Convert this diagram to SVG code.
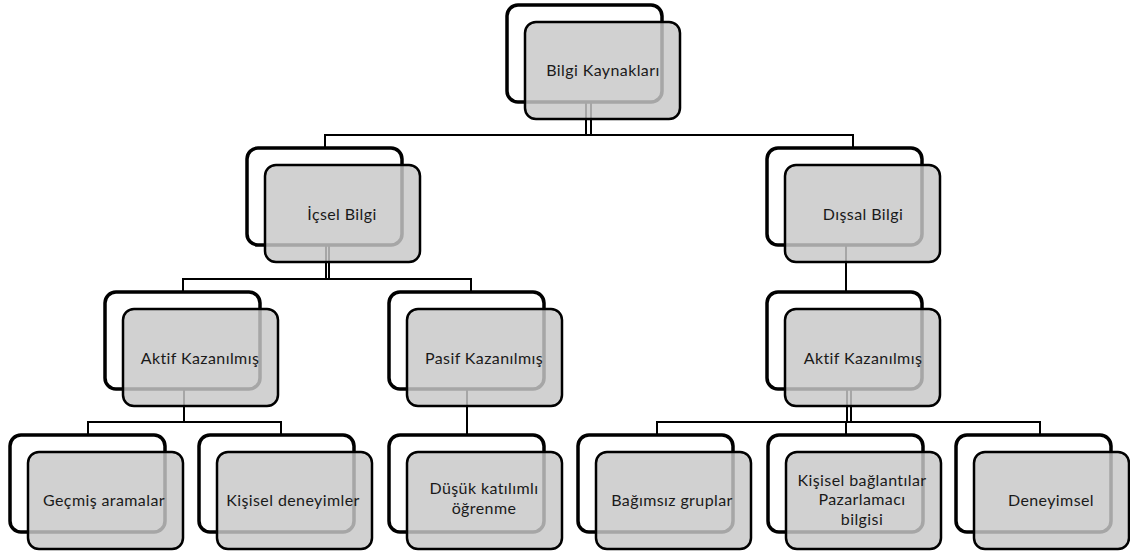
<svg xmlns="http://www.w3.org/2000/svg" width="1130" height="556" viewBox="0 0 1130 556">
<style>
.back{fill:#ffffff;stroke:#000;stroke-width:3.5}
.front{fill:#c8c8c8;fill-opacity:0.83;stroke:#000;stroke-width:2.5}
.conn line{stroke:#000;stroke-width:2}
text{font-family:Lato,"Open Sans","Liberation Sans",sans-serif;font-size:16px;letter-spacing:0.4px;fill:#1a1a1a;text-anchor:middle}
</style>
<defs>
<rect id="b" width="155" height="97" rx="11" class="back"/>
<rect id="f" width="155" height="97" rx="11" class="front"/>
</defs>
<rect width="1130" height="556" fill="#fff"/>
<g id="connectors" class="conn">
<line x1="586" y1="100" x2="586" y2="135"/><line x1="591" y1="100" x2="591" y2="135"/>
<line x1="324" y1="135" x2="854" y2="135"/>
<line x1="325" y1="135" x2="325" y2="148"/><line x1="853" y1="135" x2="853" y2="148"/>
<line x1="326" y1="244" x2="326" y2="279"/><line x1="329" y1="244" x2="329" y2="279"/>
<line x1="182" y1="279" x2="472" y2="279"/>
<line x1="183" y1="279" x2="183" y2="292"/><line x1="471" y1="279" x2="471" y2="292"/>
<line x1="846" y1="244" x2="846" y2="292"/>
<line x1="184" y1="388" x2="184" y2="422"/>
<line x1="87" y1="422" x2="282" y2="422"/>
<line x1="88" y1="422" x2="88" y2="435"/><line x1="281" y1="422" x2="281" y2="435"/>
<line x1="467" y1="388" x2="467" y2="435"/>
<line x1="847" y1="388" x2="847" y2="422"/><line x1="851" y1="388" x2="851" y2="422"/>
<line x1="656" y1="422" x2="1041" y2="422"/>
<line x1="657" y1="422" x2="657" y2="435"/><line x1="846" y1="422" x2="846" y2="435"/><line x1="1040" y1="422" x2="1040" y2="435"/>
</g>
<g id="n-root"><use href="#b" x="507" y="5"/><use href="#f" x="525" y="22"/><text x="603" y="76">Bilgi Kaynakları</text></g>
<g id="n-icsel"><use href="#b" x="247" y="148"/><use href="#f" x="265" y="165"/><text x="342" y="220">İçsel Bilgi</text></g>
<g id="n-dissal"><use href="#b" x="767" y="148"/><use href="#f" x="785" y="165"/><text x="863" y="220">Dışsal Bilgi</text></g>
<g id="n-aktif1"><use href="#b" x="105" y="292"/><use href="#f" x="123" y="309"/><text x="200" y="364">Aktif Kazanılmış</text></g>
<g id="n-pasif"><use href="#b" x="389" y="292"/><use href="#f" x="407" y="309"/><text x="484" y="364">Pasif Kazanılmış</text></g>
<g id="n-aktif2"><use href="#b" x="767" y="292"/><use href="#f" x="785" y="309"/><text x="863" y="364">Aktif Kazanılmış</text></g>
<g id="n-gecmis"><use href="#b" x="10" y="435"/><use href="#f" x="28" y="452"/><text x="104" y="506">Geçmiş aramalar</text></g>
<g id="n-kisiseldeneyim"><use href="#b" x="199" y="435"/><use href="#f" x="217" y="452"/><text x="293" y="506">Kişisel deneyimler</text></g>
<g id="n-dusuk"><use href="#b" x="389" y="435"/><use href="#f" x="407" y="452"/><text x="484" y="494">Düşük katılımlı</text><text x="484" y="514">öğrenme</text></g>
<g id="n-bagimsiz"><use href="#b" x="578" y="435"/><use href="#f" x="596" y="452"/><text x="672" y="506">Bağımsız gruplar</text></g>
<g id="n-kisiselbag"><use href="#b" x="768" y="435"/><use href="#f" x="786" y="452"/><text x="862" y="485.5">Kişisel bağlantılar</text><text x="862" y="505">Pazarlamacı</text><text x="862" y="524.5">bilgisi</text></g>
<g id="n-deneyimsel"><use href="#b" x="956" y="435"/><use href="#f" x="974" y="452"/><text x="1051" y="506">Deneyimsel</text></g>
</svg>
